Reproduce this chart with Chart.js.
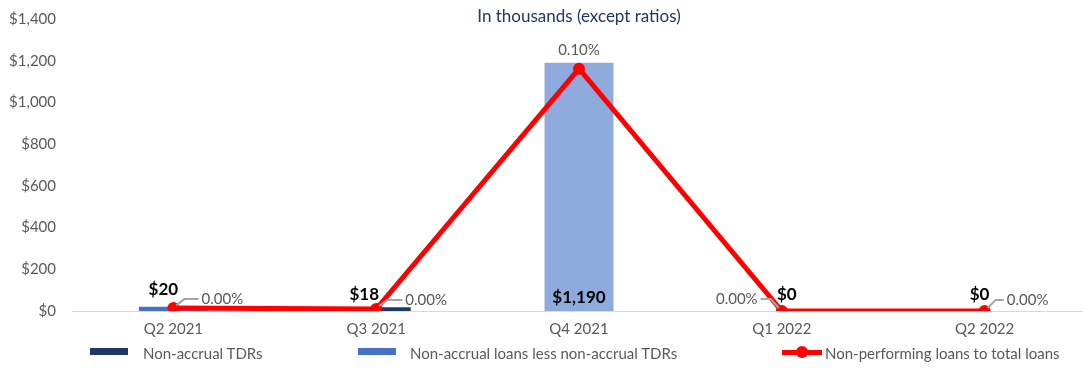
<!DOCTYPE html>
<html>
<head>
<meta charset="utf-8">
<script src="https://cdn.jsdelivr.net/npm/chart.js@4.4.1/dist/chart.umd.min.js"></script>
<style>
    html, body { margin: 0; padding: 0; background: #fff; overflow: hidden; }
    #wrap { position: absolute; left: 0; top: -6px; width: 1092px; height: 374px; }
    .legend { position: absolute; top: 344px; font-family: Lato, sans-serif; font-size: 15px; color: #595959; white-space: nowrap; line-height: 18px; }
    .legend .box { position: absolute; top: 4px; width: 38px; height: 7px; }
    .legend .txt { position: absolute; top: 0; }
</style>
</head>
<body>
<div id="wrap"><canvas id="npChart"></canvas></div>
<div class="legend" style="left:90px"><span class="box" style="left:0;background:#1F3864"></span><span class="txt" style="left:53px">Non-accrual TDRs</span></div>
<div class="legend" style="left:358px"><span class="box" style="left:0;background:#4472C4"></span><span class="txt" style="left:52px">Non-accrual loans less non-accrual TDRs</span></div>
<div class="legend" style="left:782px">
    <span style="position:absolute;left:0;top:6px;width:40px;height:5px;background:#FF0000"></span>
    <span style="position:absolute;left:14px;top:2px;width:12px;height:12px;border-radius:6px;background:#FF0000"></span>
    <span class="txt" style="left:43px">Non-performing loans to total loans</span>
</div>
<script>
//////////////////////* Data *////////////////////////////
let quarters = ["Q2 2021", "Q3 2021", "Q4 2021", "Q1 2022", "Q2 2022"];

// Non-accrual amounts, in thousands
let nonAccrualTDRs = [0, 18, 0, 0, 0];
let nonAccrualLessTDRs = [20, 0, 1190, 0, 0];
let totalLabels = [20, 18, 1190, 0, 0];

// Non-performing loans to total loans, in percent
let npRatio = [0.0012, 0.0008, 0.0996, 0, 0];

let yTicks = [0, 200, 400, 600, 800, 1000, 1200, 1400];

//////////////////////* Styles *////////////////////////////
let primaryFont = "Lato, sans-serif";
let neutralColor = "#595959";
let navyColor = "#1F3864";
let blueColors = ["#4472C4", "#4472C4", "#8FAADC", "#4472C4", "#4472C4"];

// label offsets (px) from the category base / line point
let dollarOffsets = [[-10, -21], [-12, -16], [0, -13], [5, -16], [-5, -16]];
let pctOffsets = [[49, -9], [50, -9], [0, -18], [-45, -12], [43, -11]];

let labelPlugin = {
    id: "labelPlugin",
    afterDatasetsDraw(chart) {
        let ctx = chart.ctx;
        let xs = chart.scales.x;
        let ys = chart.scales.y;
        let lineMeta = chart.getDatasetMeta(0);
        ctx.save();
        ctx.textAlign = "center";
        ctx.textBaseline = "middle";

        // percent labels with leader lines
        ctx.font = "15px " + primaryFont;
        lineMeta.data.forEach(function (pt, i) {
            let lx = pt.x + pctOffsets[i][0];
            let ly = pt.y + pctOffsets[i][1];
            let txt = npRatio[i].toFixed(2) + "%";
            let w = ctx.measureText(txt).width;
            let dx = pctOffsets[i][0];
            if (dx !== 0) {
                let s = dx > 0 ? 1 : -1;
                ctx.strokeStyle = "#A6A6A6";
                ctx.lineWidth = 2;
                ctx.beginPath();
                ctx.moveTo(pt.x + s * 3, pt.y - 3);
                ctx.lineTo(pt.x + s * 11, ly);
                ctx.lineTo(lx - s * (w / 2 + 3), ly);
                ctx.stroke();
            }
            ctx.fillStyle = neutralColor;
            ctx.fillText(txt, lx, ly);
        });

        // dollar totals
        ctx.font = "bold 17px " + primaryFont;
        ctx.fillStyle = "#000000";
        totalLabels.forEach(function (v, i) {
            let x = xs.getPixelForValue(i) + dollarOffsets[i][0];
            let y = ys.getPixelForValue(0) + dollarOffsets[i][1];
            ctx.fillText("$" + v.toLocaleString("en-US"), x, y);
        });

        // subtitle
        ctx.font = "17px " + primaryFont;
        ctx.fillStyle = navyColor;
        ctx.fillText("In thousands (except ratios)", (chart.chartArea.left + chart.chartArea.right) / 2, 23);
        ctx.restore();
    },
};

function npChart() {
    let ctx = document.getElementById("npChart");
    let data = {
        labels: quarters,
        datasets: [
            {
                type: "line",
                label: "Non-performing loans to total loans",
                data: npRatio,
                yAxisID: "y2",
                borderColor: "#FF0000",
                backgroundColor: "#FF0000",
                borderWidth: 5,
                pointRadius: 6,
                pointBorderWidth: 0,
                tension: 0,
                order: 0,
            },
            {
                type: "bar",
                label: "Non-accrual TDRs",
                data: nonAccrualTDRs,
                backgroundColor: navyColor,
                stack: "s",
                barPercentage: 0.34,
                categoryPercentage: 1,
                order: 1,
            },
            {
                type: "bar",
                label: "Non-accrual loans less non-accrual TDRs",
                data: nonAccrualLessTDRs,
                backgroundColor: blueColors,
                stack: "s",
                barPercentage: 0.34,
                categoryPercentage: 1,
                order: 1,
            },
        ],
    };
    let config = {
        data: data,
        plugins: [labelPlugin],
        options: {
            responsive: true,
            maintainAspectRatio: false,
            animation: false,
            layout: {
                padding: { top: 0, right: 0, bottom: 21, left: 0 },
            },
            plugins: {
                legend: { display: false },
                tooltip: { enabled: false },
            },
            scales: {
                x: {
                    stacked: true,
                    grid: { display: false, drawTicks: false },
                    border: { color: "#D9D9D9", width: 1 },
                    ticks: {
                        color: neutralColor,
                        padding: 9,
                        font: { family: primaryFont, size: 15 },
                    },
                },
                y: {
                    stacked: true,
                    min: 0,
                    max: 1400,
                    afterFit: function (scale) { scale.width = 72; },
                    afterBuildTicks: function (scale) {
                        scale.ticks = yTicks.map(function (v) { return { value: v }; });
                    },
                    grid: { display: false, drawTicks: false },
                    border: { display: false },
                    ticks: {
                        color: neutralColor,
                        padding: 16,
                        font: { family: primaryFont, size: 15 },
                        callback: function (value) {
                            return "$" + value.toLocaleString("en-US");
                        },
                    },
                },
                y2: {
                    display: false,
                    min: 0,
                    max: 0.12,
                },
            },
        },
    };
    let chart = new Chart(ctx, config);
}

npChart();
</script>
</body>
</html>
